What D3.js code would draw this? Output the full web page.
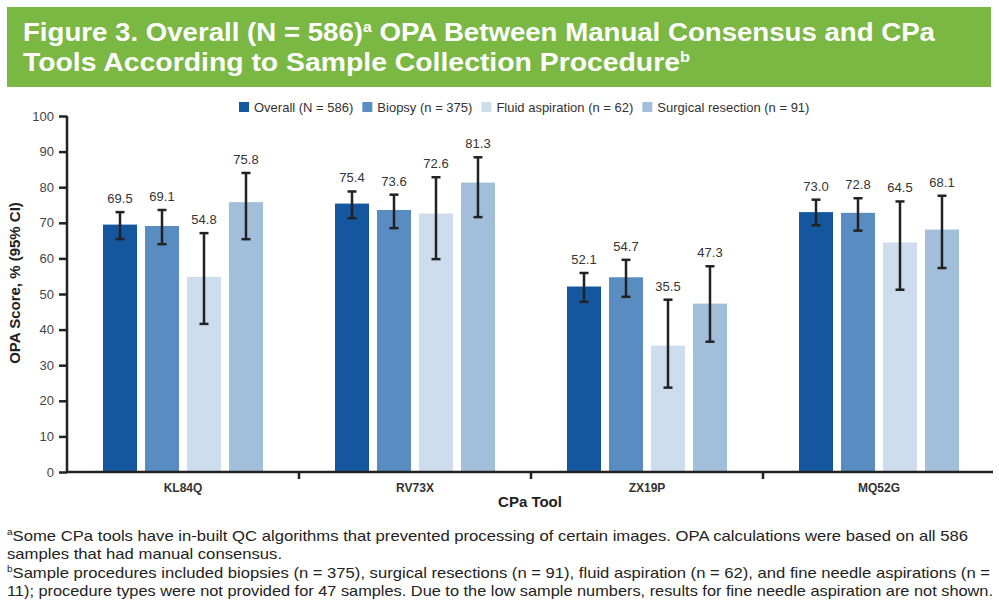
<!DOCTYPE html>
<html>
<head>
<meta charset="utf-8">
<script src="https://cdn.jsdelivr.net/npm/d3@7"></script>
<style>
  html, body { margin: 0; padding: 0; background: #fff; }
  svg { display: block; font-family: "Liberation Sans", Arial, sans-serif; }
</style>
</head>
<body>
<svg id="chart" width="999" height="614"></svg>
<script>
// chart values
var tools = ['KL84Q', 'RV73X', 'ZX19P', 'MQ52G'];
var groups = ['Overall (N = 586)', 'Biopsy (n = 375)', 'Fluid aspiration (n = 62)', 'Surgical resection (n = 91)'];
var overall = [69.5, 75.4, 52.1, 73.0];
var biopsy = [69.1, 73.6, 54.7, 72.8];
var fluid = [54.8, 72.6, 35.5, 64.5];
var surgical = [75.8, 81.3, 47.3, 68.1];
var overallLo = [65.4, 71.3, 47.8, 69.3], overallHi = [73.0, 78.8, 55.9, 76.5];
var biopsyLo = [64.0, 68.5, 49.2, 67.8], biopsyHi = [73.6, 77.9, 59.6, 76.9];
var fluidLo = [41.6, 59.8, 23.7, 51.2], fluidHi = [67.1, 82.8, 48.4, 76.0];
var surgicalLo = [65.4, 71.6, 36.6, 57.3], surgicalHi = [84.0, 88.4, 57.8, 77.6];
var yTicks = [0, 10, 20, 30, 40, 50, 60, 70, 80, 90, 100];

var colors = ['#15579f', '#598dc2', '#cddded', '#a1bedb'];
var series = [
  {vals: overall, lo: overallLo, hi: overallHi},
  {vals: biopsy, lo: biopsyLo, hi: biopsyHi},
  {vals: fluid, lo: fluidLo, hi: fluidHi},
  {vals: surgical, lo: surgicalLo, hi: surgicalHi}
];

var svg = d3.select('#chart');
var ink = '#222';

// title banner
svg.append('rect').attr('x', 7).attr('y', 7).attr('width', 984).attr('height', 80).attr('fill', '#7ab743');
var t1 = svg.append('text').attr('x', 23).attr('y', 41)
  .attr('fill', '#fff').attr('font-weight', 'bold').attr('font-size', 26);
t1.append('tspan').text('Figure 3. Overall (N = 586)');
t1.append('tspan').text('a').attr('font-size', 15).attr('dy', -9);
t1.append('tspan').text(' OPA Between Manual Consensus and CPa').attr('dy', 9);
t1.attr('textLength', 912).attr('lengthAdjust', 'spacingAndGlyphs');
var t2 = svg.append('text').attr('x', 23).attr('y', 71)
  .attr('fill', '#fff').attr('font-weight', 'bold').attr('font-size', 26);
t2.append('tspan').text('Tools According to Sample Collection Procedure');
t2.append('tspan').text('b').attr('font-size', 15).attr('dy', -9);
t2.attr('textLength', 667).attr('lengthAdjust', 'spacingAndGlyphs');

// scales
var x = d3.scaleBand().domain(tools).range([67, 995]);
var xs = d3.scaleBand().domain(d3.range(4)).range([-80, 80]).paddingInner(0.19);
var y = d3.scaleLinear().domain([0, 100]).range([472, 116]);

// legend
var lg = svg.append('g').attr('transform', 'translate(239,102)');
var lx = 0;
groups.forEach(function(g, i) {
  lg.append('rect').attr('x', lx).attr('y', 0).attr('width', 10).attr('height', 10).attr('fill', colors[i]);
  var tx = lg.append('text').attr('x', lx + 15).attr('y', 9.5).attr('font-size', 13).attr('fill', '#333').text(g);
  lx += 15 + tx.node().getComputedTextLength() + 9;
});

// bars
var grp = svg.append('g').selectAll('g').data(tools).join('g')
  .attr('transform', function(d) { return 'translate(' + (x(d) + x.bandwidth() / 2) + ',0)'; });

series.forEach(function(s, si) {
  grp.append('rect')
    .attr('x', xs(si)).attr('width', xs.bandwidth())
    .attr('y', function(d, i) { return y(s.vals[i]); })
    .attr('height', function(d, i) { return y(0) - y(s.vals[i]); })
    .attr('fill', colors[si]);
});

// error bars and value labels
series.forEach(function(s, si) {
  var cx = xs(si) + xs.bandwidth() / 2;
  grp.append('line').attr('x1', cx).attr('x2', cx)
    .attr('y1', function(d, i) { return y(s.lo[i]); })
    .attr('y2', function(d, i) { return y(s.hi[i]); })
    .attr('stroke', ink).attr('stroke-width', 2.5);
  ['lo', 'hi'].forEach(function(k) {
    grp.append('line').attr('x1', cx - 4.5).attr('x2', cx + 4.5)
      .attr('y1', function(d, i) { return y(s[k][i]); })
      .attr('y2', function(d, i) { return y(s[k][i]); })
      .attr('stroke', ink).attr('stroke-width', 2.5);
  });
  grp.append('text').attr('x', cx)
    .attr('y', function(d, i) { return y(s.hi[i]) - 9; })
    .attr('text-anchor', 'middle').attr('font-size', 13).attr('fill', '#333')
    .text(function(d, i) { return s.vals[i].toFixed(1); });
});

// y axis
var ya = svg.append('g').attr('transform', 'translate(67,0)')
  .call(d3.axisLeft(y).tickValues(yTicks).tickSize(8).tickPadding(5));
ya.select('.domain').attr('stroke', ink).attr('stroke-width', 2.5).attr('d', 'M0,' + y(100) + 'V' + y(0));
ya.selectAll('.tick line').attr('stroke', ink).attr('stroke-width', 2.5);
ya.selectAll('.tick text').attr('font-size', 13).attr('fill', '#444').attr('font-family', null);

// x axis
var xa = svg.append('g').attr('transform', 'translate(0,' + y(0) + ')');
xa.append('line').attr('x1', 66).attr('x2', 993).attr('stroke', ink).attr('stroke-width', 2.5);
xa.selectAll('.sep').data(tools.slice(1)).join('line').attr('class', 'sep')
  .attr('x1', function(d) { return x(d); }).attr('x2', function(d) { return x(d); })
  .attr('y1', 0).attr('y2', 7).attr('stroke', ink).attr('stroke-width', 2.5);
xa.selectAll('.lbl').data(tools).join('text').attr('class', 'lbl')
  .attr('x', function(d) { return x(d) + x.bandwidth() / 2; }).attr('y', 20)
  .attr('text-anchor', 'middle').attr('font-size', 12).attr('font-weight', 'bold').attr('fill', '#333')
  .text(function(d) { return d; });

// axis titles
svg.append('text').attr('x', 530).attr('y', 507).attr('text-anchor', 'middle')
  .attr('font-size', 15).attr('font-weight', 'bold').attr('fill', '#222').text('CPa Tool');
svg.append('text').attr('transform', 'translate(20,283) rotate(-90)')
  .attr('text-anchor', 'middle').attr('font-size', 15).attr('font-weight', 'bold').attr('fill', '#222')
  .text('OPA Score, % (95% CI)');

// footnotes
var notes = [
  {sup: 'a', txt: 'Some CPa tools have in-built QC algorithms that prevented processing of certain images. OPA calculations were based on all 586', y: 541, w: 961},
  {sup: '', txt: 'samples that had manual consensus.', y: 559, w: 0},
  {sup: 'b', txt: 'Sample procedures included biopsies (n = 375), surgical resections (n = 91), fluid aspiration (n = 62), and fine needle aspirations (n =', y: 578, w: 983},
  {sup: '', txt: '11); procedure types were not provided for 47 samples. Due to the low sample numbers, results for fine needle aspiration are not shown.', y: 596, w: 986}
];
var squeeze = 1;
notes.forEach(function(n, i) {
  var t = svg.append('text').attr('x', 7).attr('y', n.y).attr('font-size', 15).attr('fill', '#222')
    .attr('font-family', '"Liberation Sans Narrow", "Arial Narrow", "Liberation Sans", sans-serif');
  if (n.sup) t.append('tspan').text(n.sup).attr('font-size', 9).attr('dy', -6);
  t.append('tspan').text(n.txt).attr('dy', n.sup ? 6 : 0);
  var natural = t.node().getComputedTextLength();
  if (i === 0) squeeze = n.w / natural;
  var target = n.w || natural * squeeze;
  t.attr('textLength', target).attr('lengthAdjust', 'spacingAndGlyphs');
});
</script>
</body>
</html>
